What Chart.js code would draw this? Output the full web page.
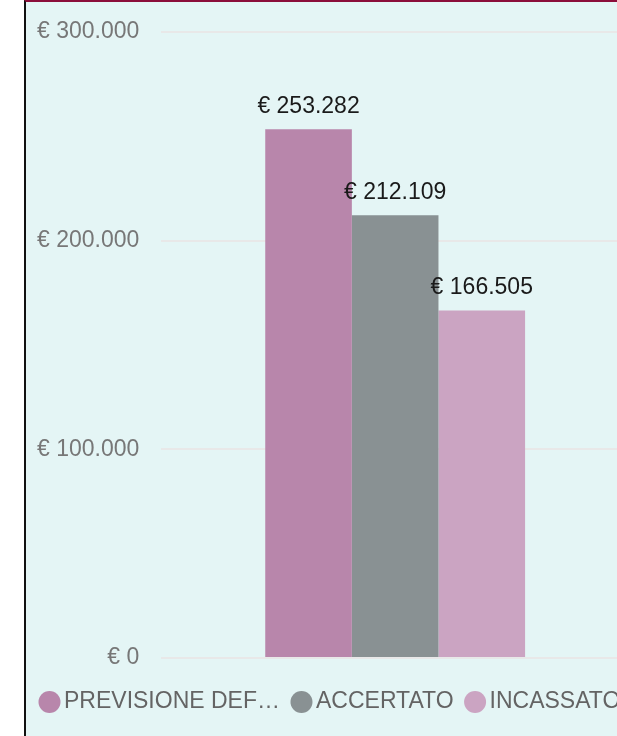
<!DOCTYPE html>
<html>
<head>
<meta charset="utf-8">
<script src="https://cdn.jsdelivr.net/npm/chart.js@4.4.1/dist/chart.umd.min.js"></script>
<style>
  body { margin: 0; background: #fff; overflow: hidden; }
  #panel {
    position: absolute; left: 24px; top: 0;
    width: 700px; height: 800px;
    background: #e4f5f5;
    border-left: 2px solid #111;
    border-top: 2px solid #8b0e3a;
  }
  canvas { display: block; margin-top: -6px; }
</style>
</head>
<body>
<div id="panel"><canvas id="mycanvas" width="603" height="740"></canvas></div>
<script>
var categories = ['Totale'];
var seriesNames = ['PREVISIONE DEFINITIVA', 'ACCERTATO', 'INCASSATO'];
var previsione = [253282];
var accertato = [212109];
var incassato = [166505];
var yTicks = [0, 100000, 200000, 300000];
var colors = ['#b886ab', '#899193', '#cba4c2'];

var FONT = '"Liberation Sans", Arial, sans-serif';

function euro(v) {
  return '€ ' + String(v).replace(/\B(?=(\d{3})+(?!\d))/g, '.');
}

// value on top of every bar
var valueLabels = {
  id: 'valueLabels',
  afterDatasetsDraw: function(chart) {
    var ctx = chart.ctx;
    ctx.save();
    ctx.font = '23px ' + FONT;
    ctx.fillStyle = '#1a1a1a';
    ctx.textAlign = 'center';
    ctx.textBaseline = 'alphabetic';
    chart.data.datasets.forEach(function(ds, i) {
      chart.getDatasetMeta(i).data.forEach(function(bar, j) {
        ctx.fillText(euro(ds.data[j]), bar.x, bar.y - 16);
      });
    });
    ctx.restore();
  }
};

// legend with dots close to the text, long names cut with an ellipsis
var dotLegend = {
  id: 'dotLegend',
  afterDraw: function(chart) {
    var ctx = chart.ctx;
    var x = 12, y = 705, maxW = 220;
    ctx.save();
    ctx.font = '23px ' + FONT;
    ctx.textBaseline = 'middle';
    ctx.textAlign = 'left';
    chart.data.datasets.forEach(function(ds) {
      var txt = ds.label;
      if (ctx.measureText(txt).width > maxW) {
        while (txt.length && ctx.measureText(txt + '…').width > maxW) txt = txt.slice(0, -1);
        txt = txt.replace(/\s+$/, '') + '…';
      }
      ctx.fillStyle = ds.backgroundColor;
      ctx.beginPath();
      ctx.arc(x + 11.5, y + 1, 11, 0, Math.PI * 2);
      ctx.fill();
      ctx.fillStyle = '#646464';
      ctx.fillText(txt, x + 26, y + 1);
      x += 26 + ctx.measureText(txt).width + 10;
    });
    ctx.restore();
  }
};

var chartdata = {
  labels: categories,
  datasets: [
    { label: seriesNames[0], data: previsione, backgroundColor: colors[0] },
    { label: seriesNames[1], data: accertato, backgroundColor: colors[1] },
    { label: seriesNames[2], data: incassato, backgroundColor: colors[2] }
  ]
};

var ctx = document.getElementById('mycanvas');

var barGraph = new Chart(ctx, {
  type: 'bar',
  data: chartdata,
  options: {
    responsive: false,
    animation: false,
    layout: { padding: { left: -11, top: 23, right: 0, bottom: 78 } },
    categoryPercentage: 0.5556,
    barPercentage: 1,
    plugins: {
      legend: { display: false },
      tooltip: { enabled: false }
    },
    scales: {
      x: { display: false },
      y: {
        min: 0,
        max: 300000,
        afterBuildTicks: function(axis) {
          axis.ticks = yTicks.map(function(v) { return { value: v }; });
        },
        ticks: {
          padding: 22,
          color: '#777',
          font: { size: 23, family: FONT },
          callback: function(v) { return euro(v); }
        },
        grid: { color: '#e8e8e8', lineWidth: 2, drawTicks: false },
        border: { display: false }
      }
    }
  },
  plugins: [valueLabels, dotLegend]
});
</script>
</body>
</html>
